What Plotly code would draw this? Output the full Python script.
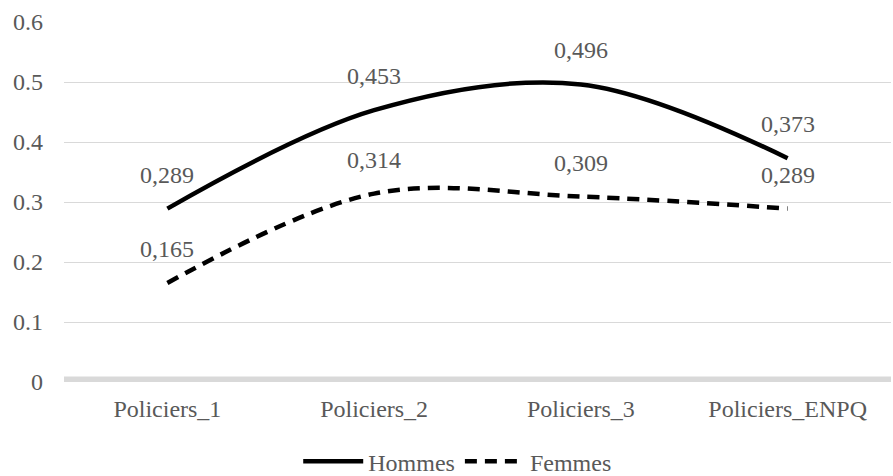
import plotly.graph_objects as go

categories = ["Policiers_1", "Policiers_2", "Policiers_3", "Policiers_ENPQ"]
hommes = [0.289, 0.453, 0.496, 0.373]
femmes = [0.165, 0.314, 0.309, 0.289]
y_ticks = [0, 0.1, 0.2, 0.3, 0.4, 0.5, 0.6]
y_tick_text = ["0", "0.1", "0.2", "0.3", "0.4", "0.5", "0.6"]

FONT = "Liberation Serif"
TXT = "#595959"
SIZE = 24


def fr(v):
    return f"{v:.3f}".replace(".", ",")


fig = go.Figure()
fig.add_trace(go.Scatter(
    x=categories, y=hommes, name="Hommes", mode="lines",
    line=dict(color="black", width=4.5, shape="spline", smoothing=1.0),
))
fig.add_trace(go.Scatter(
    x=categories, y=femmes, name="Femmes", mode="lines",
    line=dict(color="black", width=4.5, shape="spline", smoothing=1.0, dash="12px,8px"),
))

# value labels above each point
for series in (hommes, femmes):
    for c, v in zip(categories, series):
        fig.add_annotation(x=c, y=v, text=fr(v), showarrow=False, yshift=34,
                           font=dict(family=FONT, size=SIZE, color=TXT))

# thick baseline at zero
fig.add_shape(type="line", xref="paper", yref="y", x0=0, x1=1, y0=0, y1=0,
              line=dict(color="#d9d9d9", width=11), layer="below")

fig.update_layout(
    width=893, height=476,
    margin=dict(l=64, r=2, t=22, b=94, autoexpand=False),
    paper_bgcolor="white", plot_bgcolor="white",
    font=dict(family=FONT, size=SIZE, color=TXT),
    showlegend=True,
    legend=dict(orientation="h", x=0.512, xanchor="center", xref="container",
                y=0.03, yanchor="middle", yref="container",
                font=dict(family=FONT, size=SIZE, color=TXT), itemwidth=60,
                traceorder="normal"),
)
fig.update_xaxes(type="category", range=[-0.5, 3.5], showgrid=False, zeroline=False,
                 showline=False, ticks="", ticklabelstandoff=10,
                 tickfont=dict(family=FONT, size=SIZE, color=TXT))
fig.update_yaxes(range=[0, 0.6], tickvals=y_ticks, ticktext=y_tick_text,
                 showgrid=True, gridcolor="#d9d9d9", gridwidth=1.3, zeroline=False,
                 showline=False, ticks="", ticklabelstandoff=20,
                 tickfont=dict(family=FONT, size=SIZE, color=TXT))

fig.write_html("out.html")
